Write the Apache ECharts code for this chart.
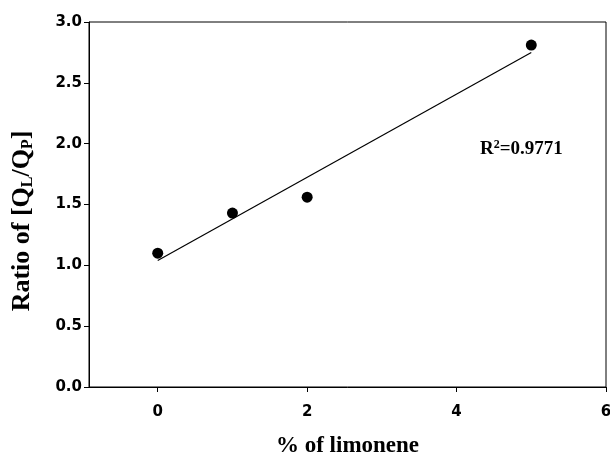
<!DOCTYPE html>
<html>
<head>
<meta charset="utf-8">
<script src="https://cdn.jsdelivr.net/npm/echarts@6/dist/echarts.min.js"></script>
<style>
  html, body { margin: 0; padding: 0; background: #fff; }
  #chart { width: 610px; height: 455px; }
</style>
</head>
<body>
<div id="chart"></div>
<script>
// data
var limonene = [0, 1, 2, 5];
var ratio = [1.10, 1.43, 1.56, 2.81];
var fitX = [0, 5];
var fitY = [1.04, 2.75];
var xTicks = [0, 2, 4, 6];
var rSquared = '0.9771';

var points = limonene.map(function (x, i) { return [x, ratio[i]]; });
var fitLine = fitX.map(function (x, i) { return [x, fitY[i]]; });

var labelFont = { color: '#000', fontFamily: 'DejaVu Sans', fontWeight: 'bold', fontSize: 15 };
var titleFont = { color: '#000', fontFamily: 'Liberation Serif', fontWeight: 'bold', fontSize: 23 };

var chart = echarts.init(document.getElementById('chart'), null, { renderer: 'canvas' });
chart.setOption({
    backgroundColor: '#fff',
    animation: false,
    grid: {
        left: 89, right: 4, top: 22, bottom: 68,
        outerBoundsMode: 'none',
        containLabel: false,
        show: true, borderColor: '#000', borderWidth: 1, backgroundColor: 'transparent'
    },
    xAxis: {
        type: 'value',
        min: -0.92,
        max: 6,
        name: '% of limonene',
        nameLocation: 'middle',
        nameGap: 48,
        nameTextStyle: titleFont,
        axisLine: { onZero: false, lineStyle: { color: '#000', width: 1 } },
        axisTick: { show: true, inside: false, length: 5, customValues: xTicks, lineStyle: { color: '#000' } },
        axisLabel: Object.assign({ margin: 18, customValues: xTicks }, labelFont),
        splitLine: { show: false }
    },
    yAxis: {
        type: 'value',
        min: 0,
        max: 3,
        interval: 0.5,
        axisLine: { onZero: false, lineStyle: { color: '#000', width: 1 } },
        axisTick: { show: true, inside: false, length: 5, lineStyle: { color: '#000' } },
        axisLabel: Object.assign({
            margin: 7,
            formatter: function (v) { return v.toFixed(1); }
        }, labelFont),
        splitLine: { show: false }
    },
    series: [
        {
            type: 'line',
            data: fitLine,
            symbol: 'none',
            lineStyle: { color: '#000', width: 1.2 },
            z: 2
        },
        {
            type: 'scatter',
            data: points,
            symbol: 'circle',
            symbolSize: 11,
            itemStyle: { color: '#000', opacity: 1 },
            z: 3
        }
    ],
    graphic: [
        {
            // y axis title, sits a bit below the plot's middle in the original
            type: 'text',
            x: 22,
            y: 221,
            rotation: Math.PI / 2,
            style: {
                text: 'Ratio of [Q{sub|L}/Q{sub|P}]',
                fill: '#000',
                font: 'bold 26px "Liberation Serif"',
                align: 'center',
                verticalAlign: 'middle',
                rich: {
                    sub: { fontFamily: 'Liberation Serif', fontWeight: 'bold', fontSize: 16, fill: '#000', padding: [12, 0, 0, 0] }
                }
            }
        },
        {
            type: 'text',
            left: 480,
            top: 139,
            style: {
                text: 'R{sup|2}=' + rSquared,
                fill: '#000',
                font: 'bold 19px "Liberation Serif"',
                rich: {
                    sup: { fontFamily: 'Liberation Serif', fontWeight: 'bold', fontSize: 12, fill: '#000', padding: [0, 0, 9, 0] }
                }
            }
        }
    ]
});
</script>
</body>
</html>
